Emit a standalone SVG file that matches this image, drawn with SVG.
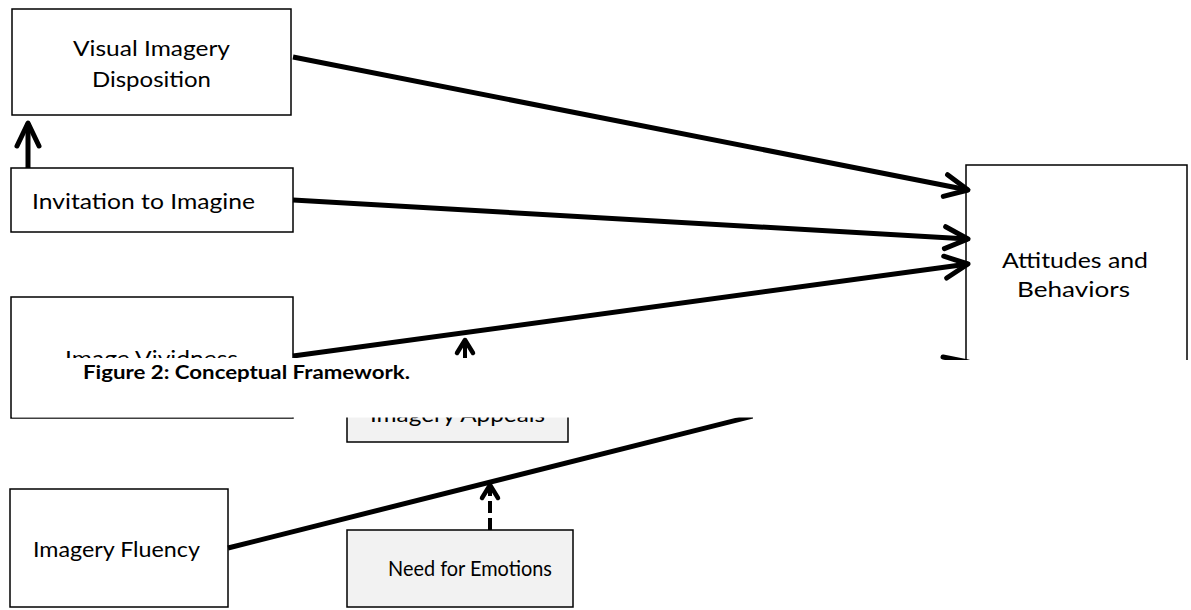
<svg xmlns="http://www.w3.org/2000/svg" width="1191" height="610" viewBox="0 0 1191 610">
<style>
.box{fill:#ffffff;stroke:#000000;stroke-width:1.5}
.gbox{fill:#f2f2f2;stroke:#000000;stroke-width:1.5}
.t{font-family:Lato,"Open Sans","Liberation Sans",sans-serif;font-size:22px;fill:#000000}
.cap{font-family:Lato,"Open Sans","Liberation Sans",sans-serif;font-size:19px;font-weight:bold;fill:#000000}
.ln{fill:none;stroke:#000000;stroke-width:5}
.sm{fill:none;stroke:#000000;stroke-width:4}
</style>
<defs>
<marker id="big" markerUnits="userSpaceOnUse" viewBox="-28 -15 32 30" refX="0" refY="0" markerWidth="32" markerHeight="30" orient="auto">
<path d="M-23,-11 L0,0 L-23,11" fill="none" stroke="#000" stroke-width="5" stroke-linecap="round" stroke-linejoin="round"/>
</marker>
<marker id="small" markerUnits="userSpaceOnUse" viewBox="-18 -12 22 24" refX="0" refY="0" markerWidth="22" markerHeight="24" orient="auto">
<path d="M-13,-8 L0,0 L-13,8" fill="none" stroke="#000" stroke-width="4.5" stroke-linecap="round" stroke-linejoin="round"/>
</marker>
</defs>
<g id="attitudes">
<rect class="box" x="966" y="165" width="221" height="300"/>
<text class="t" x="1002" y="268" textLength="146" lengthAdjust="spacingAndGlyphs">Attitudes and</text>
<text class="t" x="1017" y="297" textLength="113" lengthAdjust="spacingAndGlyphs">Behaviors</text>
</g>
<g id="visual">
<rect class="box" x="12" y="9" width="279" height="106"/>
<text class="t" x="73" y="56" textLength="157" lengthAdjust="spacingAndGlyphs">Visual Imagery</text>
<text class="t" x="92" y="87" textLength="119" lengthAdjust="spacingAndGlyphs">Disposition</text>
</g>
<g id="invitation">
<rect class="box" x="11" y="168" width="282" height="64"/>
<text class="t" x="32" y="209" textLength="223" lengthAdjust="spacingAndGlyphs">Invitation to Imagine</text>
</g>
<g id="vividness">
<rect class="box" x="11" y="297" width="282" height="121"/>
<text class="t" x="65" y="366" textLength="173" lengthAdjust="spacingAndGlyphs">Image Vividness</text>
</g>
<g id="appeals">
<rect class="gbox" x="347" y="380" width="221" height="62"/>
<text class="t" x="370" y="422" textLength="175" lengthAdjust="spacingAndGlyphs">Imagery Appeals</text>
</g>
<g id="fluency">
<rect class="box" x="10" y="489" width="218" height="118"/>
<text class="t" x="33" y="557" textLength="167" lengthAdjust="spacingAndGlyphs">Imagery Fluency</text>
</g>
<g id="emotions">
<rect class="gbox" x="347" y="530" width="226" height="77"/>
<text class="t" x="388" y="576" textLength="164" lengthAdjust="spacingAndGlyphs">Need for Emotions</text>
</g>
<g id="connectors">
<line class="ln" x1="28" y1="168" x2="28" y2="123" marker-end="url(#big)"/>
<line class="ln" x1="293" y1="57" x2="968" y2="190" marker-end="url(#big)"/>
<line class="ln" x1="293" y1="200" x2="968" y2="239" marker-end="url(#big)"/>
<line class="ln" x1="293" y1="356" x2="968" y2="264" marker-end="url(#big)"/>
<line class="ln" x1="228" y1="548" x2="968" y2="362" marker-end="url(#big)"/>
<line class="sm" x1="465" y1="380" x2="465" y2="340" marker-end="url(#small)"/>
<line class="sm" x1="490" y1="530" x2="490" y2="485" stroke-dasharray="12 5" marker-end="url(#small)"/>
</g>
<g id="caption">
<rect x="12" y="358" width="741" height="59.5" fill="#ffffff"/>
<rect x="753" y="360" width="438" height="250" fill="#ffffff"/>
<text class="cap" x="83" y="379" textLength="327" lengthAdjust="spacingAndGlyphs">Figure 2: Conceptual Framework.</text>
</g>
</svg>
